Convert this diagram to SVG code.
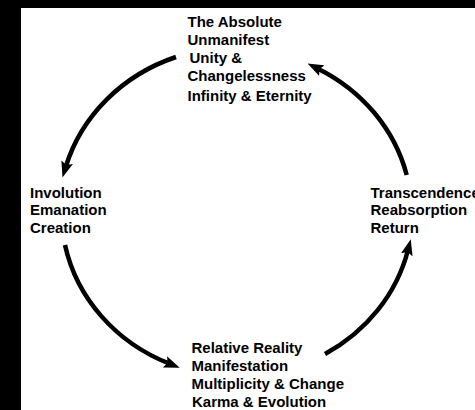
<svg xmlns="http://www.w3.org/2000/svg" width="475" height="410" viewBox="0 0 475 410">
<style>
  .lbl { font-family: "Liberation Sans", Arial, Helvetica, sans-serif; font-size: 15px; font-weight: bold; fill: #000; }
  .arc { fill: none; stroke: #000; stroke-width: 4.5; stroke-linecap: butt; marker-end: url(#head); }
</style>
<defs>
  <marker id="head" markerUnits="userSpaceOnUse" markerWidth="16" markerHeight="12" viewBox="0 0 16 12" refX="5" refY="6" orient="auto">
    <path d="M0,0 L16,6 L0,12 L3,6 Z" fill="#000"/>
  </marker>
</defs>
<rect x="0" y="0" width="475" height="410" fill="#000"/>
<rect x="21" y="8" width="454" height="402" fill="#fff"/>
<g id="connectors">
  <path class="arc" d="M176,57 A177,165 0 0 0 65.7,167"/>
  <path class="arc" d="M65,245 A177,165 0 0 0 169.5,363.7"/>
  <path class="arc" d="M325,354 A177,165 0 0 0 408,250"/>
  <path class="arc" d="M406.7,175 A177,165 0 0 0 317.4,68.4"/>
</g>
<g id="node-absolute" class="lbl">
  <text x="187.5" y="27">The Absolute</text>
  <text x="187.5" y="45">Unmanifest</text>
  <text x="189.5" y="63">Unity &amp;</text>
  <text x="187.5" y="80.5">Changelessness</text>
  <text x="187.5" y="100.5">Infinity &amp; Eternity</text>
</g>
<g id="node-involution" class="lbl">
  <text x="30" y="197.5">Involution</text>
  <text x="30" y="215">Emanation</text>
  <text x="30" y="232.5">Creation</text>
</g>
<g id="node-transcendence" class="lbl">
  <text x="370.5" y="197.5">Transcendence</text>
  <text x="370.5" y="215">Reabsorption</text>
  <text x="370.5" y="232.5">Return</text>
</g>
<g id="node-relative" class="lbl">
  <text x="191.5" y="353">Relative Reality</text>
  <text x="191.5" y="370.5">Manifestation</text>
  <text x="191.5" y="388.5">Multiplicity &amp; Change</text>
  <text x="192" y="407">Karma &amp; Evolution</text>
</g>
</svg>
